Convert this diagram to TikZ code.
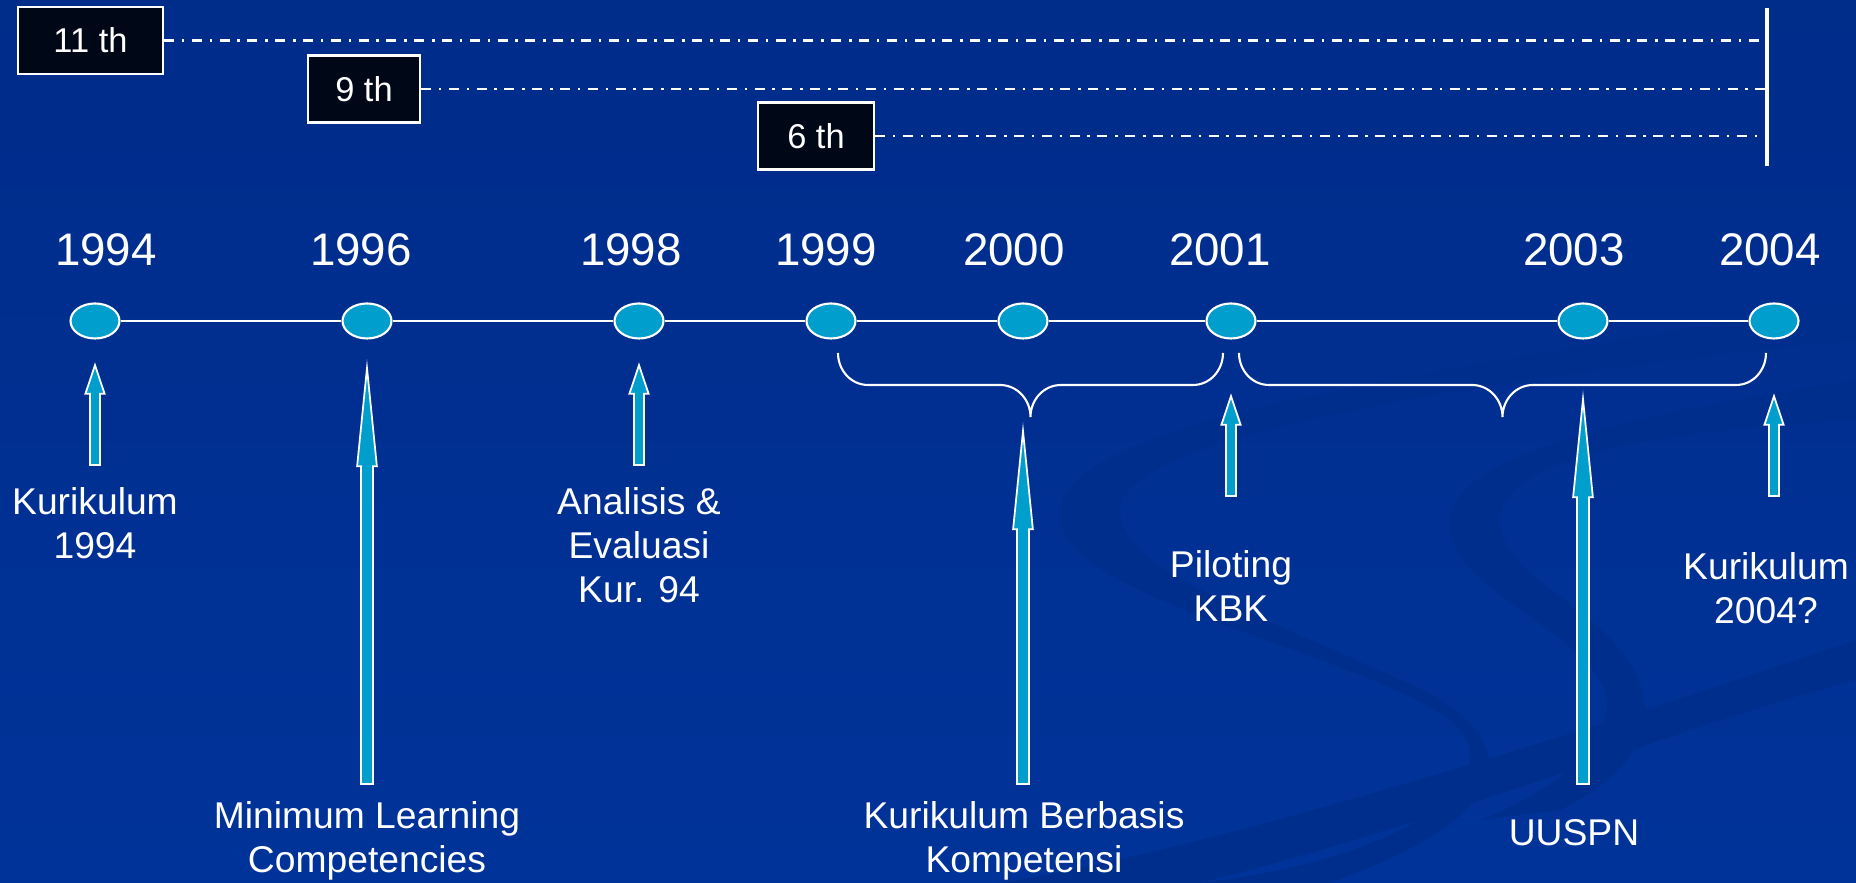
\documentclass[tikz,border=0pt]{standalone}
\usepackage{fontspec}
\setmainfont{Liberation Sans}
\usetikzlibrary{calc}
\usetikzlibrary{shapes.geometric,shapes.arrows}

\definecolor{bgblue}{RGB}{0,51,153}
\definecolor{bgtop}{RGB}{0,44,138}
\definecolor{swoosh}{RGB}{0,46,140}
\definecolor{evcyan}{RGB}{0,158,204}
\definecolor{boxblack}{RGB}{0,8,24}

\tikzset{
  yr/.style={text=white, font=\fontsize{13}{15}\selectfont},
  lbl/.style={text=white, align=center, font=\fontsize{10.6}{12.5}\selectfont},
  thbox/.style={draw=white, line width=0.6pt, fill=boxblack, text=white,
    font=\fontsize{9.8}{12}\selectfont, minimum height=6.7mm, inner sep=0pt},
  evt/.style={ellipse, draw=white, line width=0.6pt, fill=evcyan,
    minimum width=4.9mm, minimum height=3.5mm, inner sep=0pt},
  ddline/.style={white, line width=0.8pt,
    dash pattern=on 2.85pt off 2.2pt on 0.76pt off 2.1pt},
  shortarr/.style={single arrow, rotate=90, anchor=tail, draw=white, line width=0.5pt,
    fill=evcyan, inner xsep=0pt, inner ysep=0.42mm, minimum width=0pt,
    minimum height=10mm, single arrow head extend=0.45mm, single arrow tip angle=37},
  longarr/.style={single arrow, rotate=90, anchor=tail, draw=white, line width=0.5pt,
    fill=evcyan, inner xsep=0pt, inner ysep=0.52mm, minimum width=0pt,
    single arrow head extend=0.38mm, single arrow tip angle=11.5}
}

\begin{document}
\begin{tikzpicture}[x=0.1mm, y=0.1mm]
% background
\shade[top color=bgtop, bottom color=bgblue] (0,0) rectangle (1856,883);
\useasboundingbox (0,0) rectangle (1856,883);
\begin{scope}[shift={(0,883)}, yscale=-1]
\fill[swoosh] (1856,300) .. controls (1400,380) and (1050,420) .. (1060,520)
  .. controls (1070,600) and (1350,650) .. (1450,720)
  .. controls (1520,780) and (1400,860) .. (1200,883) -- (1330,883)
  .. controls (1560,800) and (1500,720) .. (1400,680)
  .. controls (1250,610) and (1120,570) .. (1120,510)
  .. controls (1120,440) and (1450,380) .. (1856,340) -- cycle;
\fill[swoosh] (1856,380) .. controls (1600,420) and (1440,460) .. (1450,530)
  .. controls (1460,590) and (1560,620) .. (1600,680)
  .. controls (1630,730) and (1560,790) .. (1480,820) -- (1560,810)
  .. controls (1660,760) and (1660,700) .. (1620,650)
  .. controls (1580,600) and (1500,570) .. (1500,520)
  .. controls (1500,460) and (1650,430) .. (1856,420) -- cycle;
\fill[swoosh] (1856,640) .. controls (1500,760) and (1200,850) .. (1000,883)
  -- (1200,883) .. controls (1450,820) and (1700,720) .. (1856,680) -- cycle;
\end{scope}

% grade boxes
\coordinate (vtop) at (1767,875);
\coordinate (vbot) at (1767,717);
\draw[white, line width=1pt] (vtop) -- (vbot);
\node[thbox, minimum width=14.5mm] (b11) at (90.5,842.5) {11 th};
\node[thbox, minimum width=11.2mm] (b9) at (364,794) {9 th};
\node[thbox, minimum width=11.6mm] (b6) at (816,747) {6 th};
\foreach \b in {b11,b9,b6} {
  \draw[ddline] (\b.east) -- (\b.east -| vtop);
}

% timeline
\foreach \n/\x in {94/95, 96/367, 98/639, 99/831, 00/1023, 01/1231, 03/1583, 04/1774} {
  \node[evt] (e\n) at (\x,562) {};
}
\foreach \a/\b in {94/96, 96/98, 98/99, 99/00, 00/01, 01/03, 03/04} {
  \draw[white, line width=0.6pt] (e\a) -- (e\b);
}
\foreach \x/\yr in {106/1994, 361/1996, 631/1998, 826/1999, 1014/2000, 1220/2001, 1574/2003, 1770/2004} {
  \node[yr] (y\yr) at (\x,633) {\yr};
}

% braces
\draw[white, line width=0.6pt] (838,530) to[out=-90,in=180] (868,498) -- (1000,498)
  to[out=0,in=90] (1030.5,466) to[out=90,in=180] (1061,498) -- (1193,498)
  to[out=0,in=-90] (1223,530);
\draw[white, line width=0.6pt] (1239,530) to[out=-90,in=180] (1269,498) -- (1472,498)
  to[out=0,in=90] (1502.5,466) to[out=90,in=180] (1533,498) -- (1736,498)
  to[out=0,in=-90] (1766,530);

% arrows
\node[shortarr] (a94) at (95,417) {};
\node[shortarr] (a98) at (639,417) {};
\node[shortarr] (a01) at (1231,386) {};
\node[shortarr] (a04) at (1774,386) {};
\node[longarr, minimum height=41.6mm] (a96) at (367,98) {};
\node[longarr, minimum height=35.3mm] (a00) at (1023,98) {};
\node[longarr, minimum height=38.5mm] (a03) at (1583,98) {};

% labels
\node[lbl] (l94) at (95,360) {Kurikulum\\1994};
\node[lbl] (l96) at (367,42) {Minimum Learning\\Competencies};
\node[lbl] (l98) at (639,338) {Analisis \&\\Evaluasi\\Kur. 94};
\node[lbl] (l00) at (1024,42) {Kurikulum Berbasis\\Kompetensi};
\node[lbl] (l01) at (1231,297) {Piloting\\KBK};
\node[lbl] (l03) at (1574,50) {UUSPN};
\node[lbl] (l04) at (1766,295) {Kurikulum\\2004?};
\end{tikzpicture}
\end{document}
